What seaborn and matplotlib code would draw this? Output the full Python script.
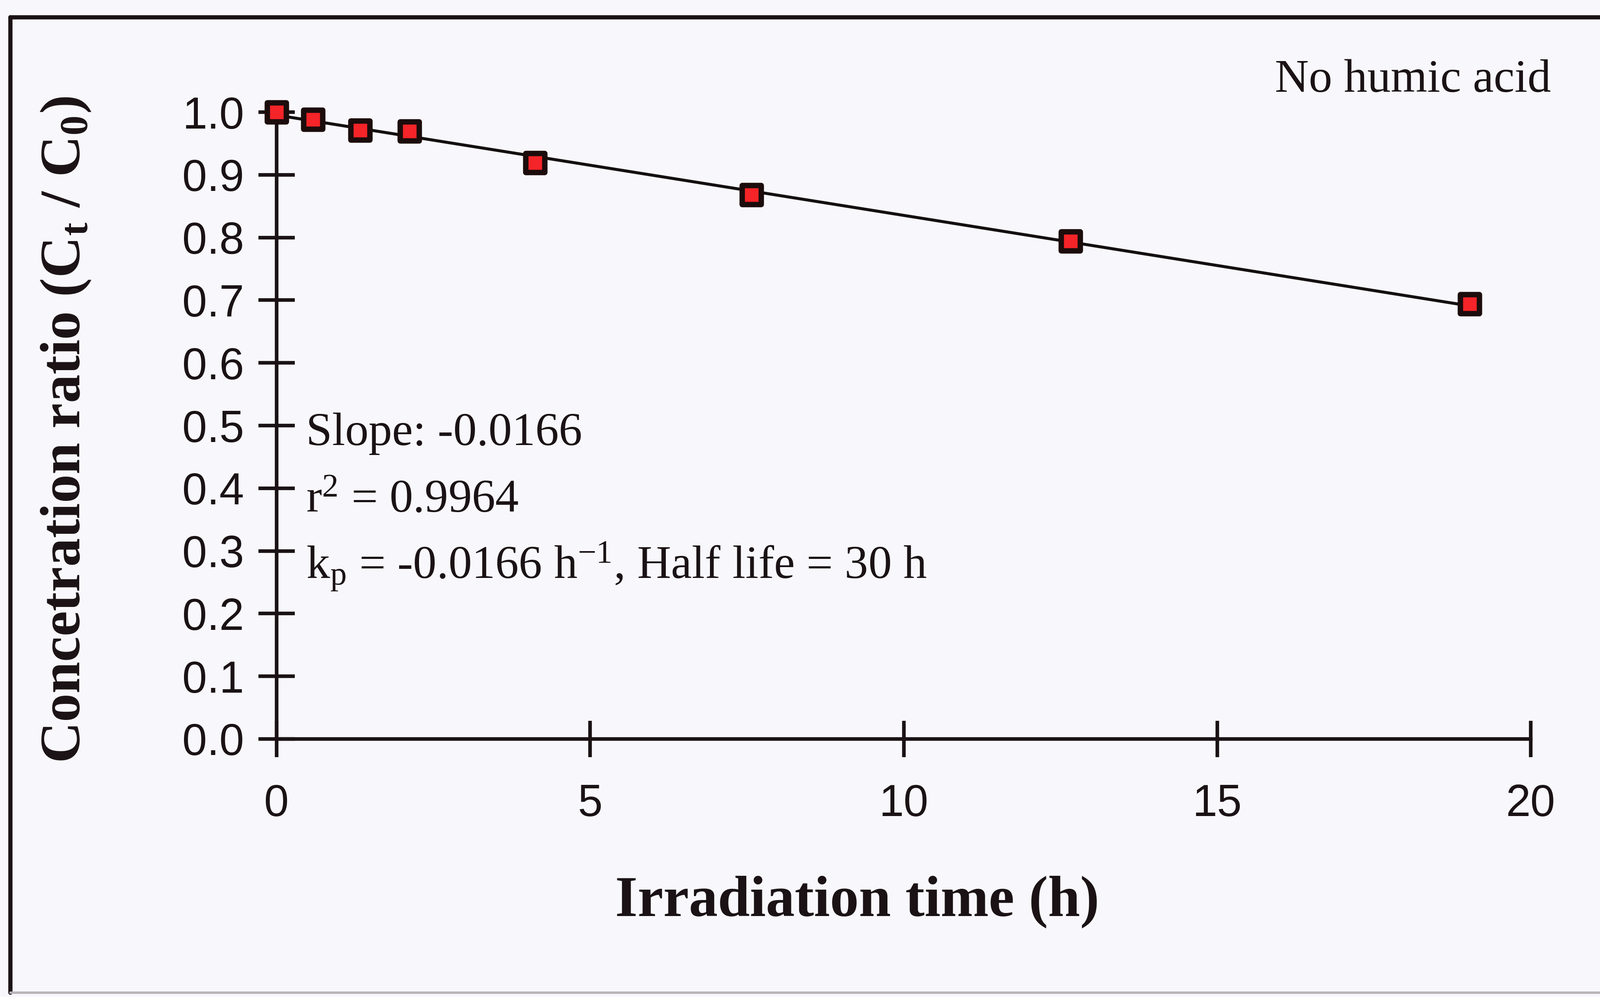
import numpy as np
import pandas as pd
import matplotlib
matplotlib.use("Agg")
import matplotlib.pyplot as plt
import seaborn as sns
from matplotlib.lines import Line2D

# ---------------- data ----------------
time_h = [0.0, 0.58, 1.33, 2.12, 4.12, 7.57, 12.66, 19.03]
conc_ratio = [1.000, 0.988, 0.971, 0.970, 0.919, 0.868, 0.794, 0.694]
x_ticks = [0, 5, 10, 15, 20]
x_tick_labels = ["0", "5", "10", "15", "20"]
y_ticks = [0.0, 0.1, 0.2, 0.3, 0.4, 0.5, 0.6, 0.7, 0.8, 0.9, 1.0]
y_tick_labels = ["0.0", "0.1", "0.2", "0.3", "0.4", "0.5", "0.6", "0.7", "0.8", "0.9", "1.0"]
x_label = "Irradiation time (h)"
y_label = r"Concetration ratio (C$_\mathbf{t}$ / C$_\mathbf{0}$)"
panel_label = "No humic acid"
annotations = [
    "Slope: -0.0166",
    r"r$^2$ = 0.9964",
    r"k$_\mathrm{p}$ = -0.0166 h$^{-1}$, Half life = 30 h",
]

df = pd.DataFrame({"time": time_h, "ratio": conc_ratio})

# ---------------- style ----------------
bg = "#f8f8fc"
ink = "#1a1214"
sns.set_theme(style="white")
plt.rcParams.update({
    "font.family": ["Liberation Serif", "DejaVu Serif"],
    "mathtext.fontset": "custom",
    "mathtext.rm": "Liberation Serif",
    "mathtext.it": "Liberation Serif:italic",
    "mathtext.bf": "Liberation Serif:bold",
    "axes.facecolor": bg,
    "figure.facecolor": bg,
    "text.color": ink,
})

fig = plt.figure(figsize=(36.96, 23.03), dpi=100, facecolor=bg)
ax = fig.add_axes([0.1729, 0.2588, 0.7838, 0.6287])
ax.set_facecolor(bg)

sns.regplot(data=df, x="time", y="ratio", ax=ax, scatter=False, ci=None,
            truncate=True, line_kws=dict(color="#141010", lw=5, zorder=2))
sns.scatterplot(data=df, x="time", y="ratio", ax=ax, marker="s", s=1000,
                color="#f42428", edgecolor="#1c0c0c", linewidth=9,
                zorder=3, clip_on=False, legend=False)

ax.set_xlim(0, 20)
ax.set_ylim(0, 1.0)
ax.set_xticks(x_ticks)
ax.set_xticklabels(x_tick_labels, fontfamily="Liberation Sans", fontsize=74, color=ink)
ax.set_yticks(y_ticks)
ax.set_yticklabels(y_tick_labels, fontfamily="Liberation Sans", fontsize=74, color=ink)

for s in ["top", "right"]:
    ax.spines[s].set_visible(False)
for s in ["left", "bottom"]:
    ax.spines[s].set_linewidth(6)
    ax.spines[s].set_color(ink)

ax.tick_params(axis="both", which="major", bottom=True, left=True,
               direction="inout", length=60, width=6, color=ink)
ax.tick_params(axis="y", pad=24)
ax.tick_params(axis="x", pad=44)

ax.set_xlabel(x_label, fontsize=96, fontweight="bold", color=ink)
ax.xaxis.label.set_va("center")
ax.xaxis.set_label_coords(0.463, -0.260)
ax.set_ylabel(y_label, fontsize=95, fontweight="bold", color=ink)
ax.yaxis.label.set_va("center")
ax.yaxis.label.set_ha("center")
ax.yaxis.set_label_coords(-0.1678, 0.493)

ann_y = [0.469, 0.362, 0.256]
for txt, yy in zip(annotations, ann_y):
    ax.text(0.0235, yy, txt, transform=ax.transAxes, fontsize=78,
            ha="left", va="baseline", color=ink)

fig.text(0.9694, 0.908, panel_label, fontsize=78, ha="right", va="baseline", color=ink)

# figure frame (top, left, bottom)
frame_kw = dict(transform=fig.transFigure, color=ink, lw=7)
fig.add_artist(Line2D([0.0065, 1.0], [0.9826, 0.9826], **frame_kw))
fig.add_artist(Line2D([0.0065, 0.0065], [0.0043, 0.9826], **frame_kw))
fig.add_artist(Line2D([0.0065, 1.0], [0.0043, 0.0043], color="#b8b4b8", lw=4,
                      transform=fig.transFigure))

fig.savefig("out.png", dpi=100, facecolor=bg)
